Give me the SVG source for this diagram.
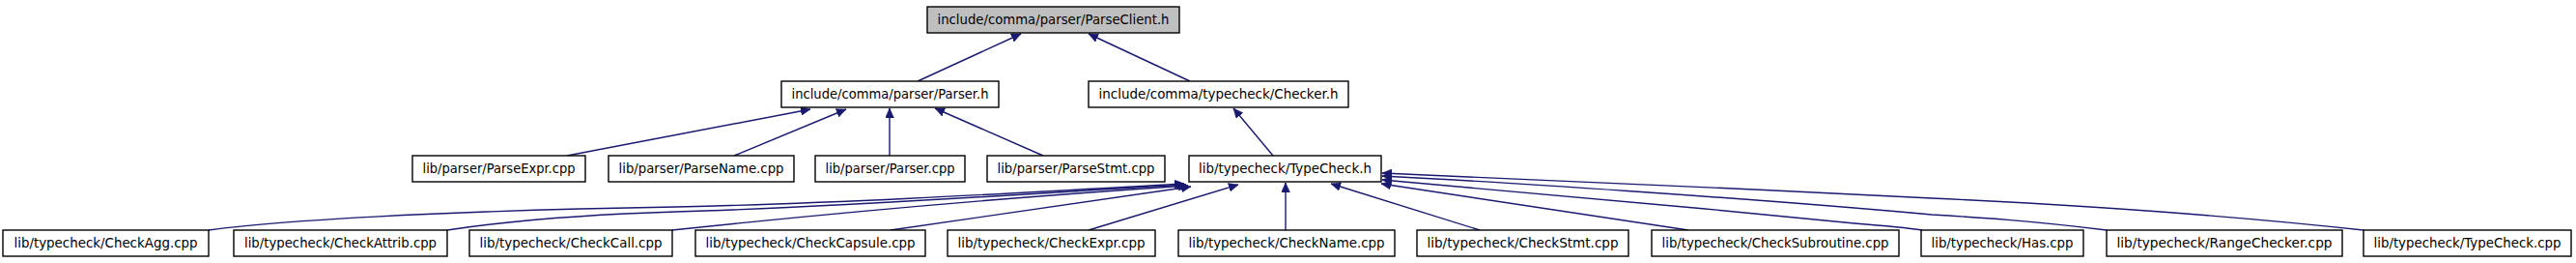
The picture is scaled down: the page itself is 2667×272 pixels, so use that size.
<svg xmlns="http://www.w3.org/2000/svg" width="2667" height="272" viewBox="0 0 2667 272">
<style>
.box{fill:#ffffff;stroke:#000000;stroke-width:1.4}
.root{fill:#bfbfbf;stroke:#000000;stroke-width:1.4}
.t{font-family:"DejaVu Sans","Liberation Sans",sans-serif;font-size:14.5px;fill:#000000;text-anchor:middle}
.e{fill:none;stroke:#191970;stroke-width:1.4}
</style>
<defs>
<marker id="ah" viewBox="0 0 10 9" refX="10" refY="4.5" markerUnits="userSpaceOnUse" markerWidth="10" markerHeight="9" orient="auto">
<path d="M0,0 L10,4.5 L0,9 z" fill="#191970" stroke="#191970" stroke-width="0.5"/>
</marker>
</defs>
<rect width="2667" height="272" fill="#ffffff"/>
<g id="edges">
<path class="e" marker-end="url(#ah)" d="M950,84 L1057,35"/>
<path class="e" marker-end="url(#ah)" d="M1232,84 L1127,35"/>
<path class="e" marker-end="url(#ah)" d="M587,161 L839,113"/>
<path class="e" marker-end="url(#ah)" d="M760,161 L876,113"/>
<path class="e" marker-end="url(#ah)" d="M921,161 L921,112"/>
<path class="e" marker-end="url(#ah)" d="M1080,161 L968,112"/>
<path class="e" marker-end="url(#ah)" d="M1318,161 L1277,112"/>
<path class="e" marker-end="url(#ah)" d="M216,238 C280,229 450,218 700,214 C880,210 1080,198 1226,190"/>
<path class="e" marker-end="url(#ah)" d="M463,238 C530,228 600,222 700,219 C880,214 1080,199 1228,191"/>
<path class="e" marker-end="url(#ah)" d="M696,238 C800,227 1000,207 1230,192"/>
<path class="e" marker-end="url(#ah)" d="M922,238 L1233,193"/>
<path class="e" marker-end="url(#ah)" d="M1127,238 L1282,191"/>
<path class="e" marker-end="url(#ah)" d="M1331,238 L1331,189"/>
<path class="e" marker-end="url(#ah)" d="M1532,238 L1378,190"/>
<path class="e" marker-end="url(#ah)" d="M1748,238 L1430,190"/>
<path class="e" marker-end="url(#ah)" d="M1990,238 C1970,235 1945,233 1920,231 C1750,214 1530,194 1431,186"/>
<path class="e" marker-end="url(#ah)" d="M2181,238 C2100,228 2050,225 2000,222 C1800,204 1550,188 1431,182"/>
<path class="e" marker-end="url(#ah)" d="M2447,238 C2300,222 2150,212 2000,205 C1800,195 1550,183 1431,179"/>
</g>
<g id="n_parseclient"><rect class="root" x="960" y="7" width="261" height="27"/><text class="t" x="1090.5" y="25" textLength="240" lengthAdjust="spacingAndGlyphs">include/comma/parser/ParseClient.h</text></g>
<g id="n_parser_h"><rect class="box" x="809" y="84" width="225" height="27"/><text class="t" x="921.5" y="102" textLength="204" lengthAdjust="spacingAndGlyphs">include/comma/parser/Parser.h</text></g>
<g id="n_checker_h"><rect class="box" x="1127" y="84" width="269" height="27"/><text class="t" x="1261.5" y="102" textLength="248" lengthAdjust="spacingAndGlyphs">include/comma/typecheck/Checker.h</text></g>
<g id="n_parseexpr"><rect class="box" x="427" y="161" width="179" height="27"/><text class="t" x="516.5" y="179" textLength="158" lengthAdjust="spacingAndGlyphs">lib/parser/ParseExpr.cpp</text></g>
<g id="n_parsename"><rect class="box" x="630" y="161" width="192" height="27"/><text class="t" x="726" y="179" textLength="171" lengthAdjust="spacingAndGlyphs">lib/parser/ParseName.cpp</text></g>
<g id="n_parser_cpp"><rect class="box" x="844" y="161" width="155" height="27"/><text class="t" x="921.5" y="179" textLength="134" lengthAdjust="spacingAndGlyphs">lib/parser/Parser.cpp</text></g>
<g id="n_parsestmt"><rect class="box" x="1022" y="161" width="184" height="27"/><text class="t" x="1114" y="179" textLength="163" lengthAdjust="spacingAndGlyphs">lib/parser/ParseStmt.cpp</text></g>
<g id="n_typecheck_h"><rect class="box" x="1231" y="161" width="199" height="27"/><text class="t" x="1330.5" y="179" textLength="179" lengthAdjust="spacingAndGlyphs">lib/typecheck/TypeCheck.h</text></g>
<g id="n_checkagg"><rect class="box" x="3" y="238" width="213" height="27"/><text class="t" x="109.5" y="256" textLength="190" lengthAdjust="spacingAndGlyphs">lib/typecheck/CheckAgg.cpp</text></g>
<g id="n_checkattrib"><rect class="box" x="242" y="238" width="221" height="27"/><text class="t" x="352.5" y="256" textLength="199" lengthAdjust="spacingAndGlyphs">lib/typecheck/CheckAttrib.cpp</text></g>
<g id="n_checkcall"><rect class="box" x="486" y="238" width="210" height="27"/><text class="t" x="591" y="256" textLength="189" lengthAdjust="spacingAndGlyphs">lib/typecheck/CheckCall.cpp</text></g>
<g id="n_checkcapsule"><rect class="box" x="720" y="238" width="238" height="27"/><text class="t" x="839" y="256" textLength="217" lengthAdjust="spacingAndGlyphs">lib/typecheck/CheckCapsule.cpp</text></g>
<g id="n_checkexpr"><rect class="box" x="981" y="238" width="215" height="27"/><text class="t" x="1088.5" y="256" textLength="194" lengthAdjust="spacingAndGlyphs">lib/typecheck/CheckExpr.cpp</text></g>
<g id="n_checkname"><rect class="box" x="1220" y="238" width="224" height="27"/><text class="t" x="1332" y="256" textLength="203" lengthAdjust="spacingAndGlyphs">lib/typecheck/CheckName.cpp</text></g>
<g id="n_checkstmt"><rect class="box" x="1467" y="238" width="219" height="27"/><text class="t" x="1576.5" y="256" textLength="198" lengthAdjust="spacingAndGlyphs">lib/typecheck/CheckStmt.cpp</text></g>
<g id="n_checksubroutine"><rect class="box" x="1710" y="238" width="256" height="27"/><text class="t" x="1838" y="256" textLength="235" lengthAdjust="spacingAndGlyphs">lib/typecheck/CheckSubroutine.cpp</text></g>
<g id="n_has"><rect class="box" x="1989" y="238" width="168" height="27"/><text class="t" x="2073" y="256" textLength="147" lengthAdjust="spacingAndGlyphs">lib/typecheck/Has.cpp</text></g>
<g id="n_rangechecker"><rect class="box" x="2181" y="238" width="244" height="27"/><text class="t" x="2303" y="256" textLength="223" lengthAdjust="spacingAndGlyphs">lib/typecheck/RangeChecker.cpp</text></g>
<g id="n_typecheck_cpp"><rect class="box" x="2447" y="238" width="215" height="27"/><text class="t" x="2554.5" y="256" textLength="194" lengthAdjust="spacingAndGlyphs">lib/typecheck/TypeCheck.cpp</text></g>
</svg>
